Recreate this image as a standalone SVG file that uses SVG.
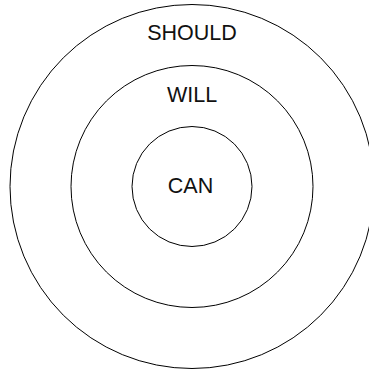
<svg xmlns="http://www.w3.org/2000/svg" width="369" height="374" viewBox="0 0 369 374">
<style>
.ring{fill:none;stroke:#000;stroke-width:1}
.lbl{font-family:"Liberation Sans",Arial,sans-serif;font-size:21.5px;fill:#111;text-anchor:middle}
</style>
<rect width="369" height="374" fill="#fff"/>
<g id="should">
<circle class="ring" cx="192" cy="186.5" r="182"/>
<text class="lbl" x="192" y="40">SHOULD</text>
</g>
<g id="will">
<circle class="ring" cx="192" cy="186.5" r="121"/>
<text class="lbl" x="192" y="102">WILL</text>
</g>
<g id="can">
<circle class="ring" cx="192" cy="186.5" r="60"/>
<text class="lbl" x="190.5" y="193">CAN</text>
</g>
<g id="connectors"/>
</svg>
